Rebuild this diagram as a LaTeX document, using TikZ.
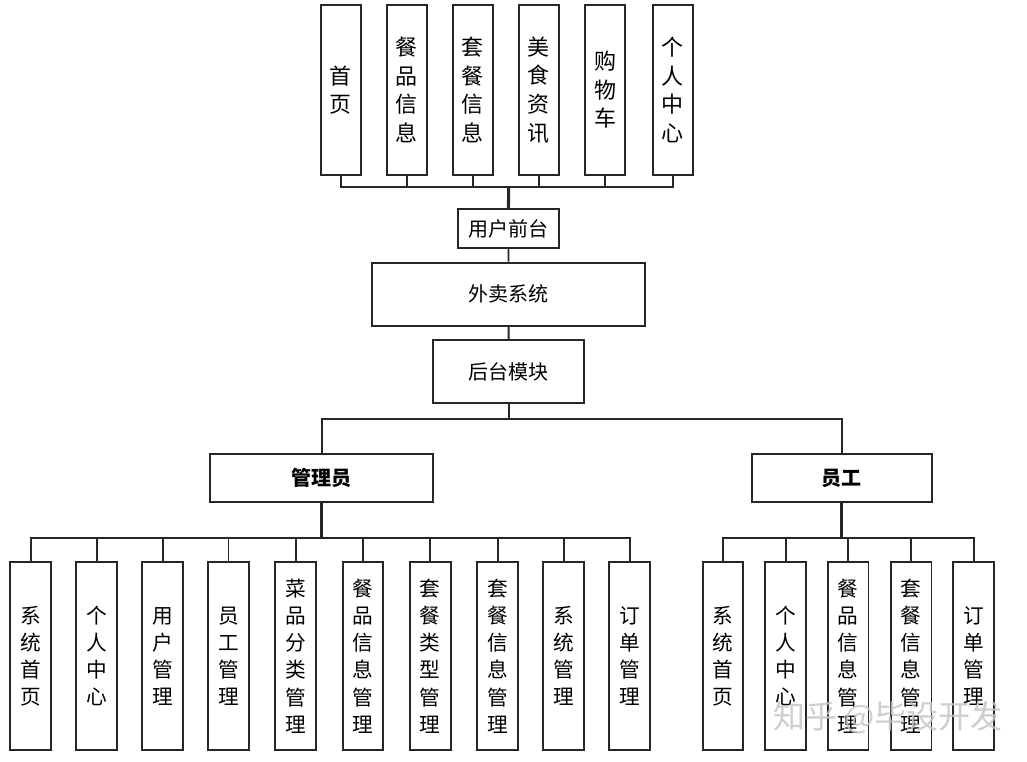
\documentclass[tikz,border=0pt]{standalone}
\usepackage{fontspec}
\setmainfont{Noto Sans CJK SC}
\usepackage{tikz}

\begin{document}
\begin{tikzpicture}[x=0.75pt,y=-0.75pt]
   \useasboundingbox (0,0) rectangle (1027,762);
   \tikzstyle{box}=[draw=black!85, line width=1.4pt, inner sep=0pt, fill=white]
   \tikzstyle{topbox}=[box, minimum width=30pt, minimum height=127.5pt, align=center, font=\fontsize{16.5}{21.4}\selectfont]
   \tikzstyle{subbox}=[box, minimum width=30.5pt, minimum height=140.8pt, align=center, font=\fontsize{15.5}{20.3}\selectfont]
   \tikzstyle{wide}=[box, font=\fontsize{15}{18}\selectfont]
   \tikzstyle{link}=[draw=black!85, line width=1.4pt]
   \tikzstyle{trunk}=[draw=black!85, line width=2.3pt]
   % upper part: front end
   \coordinate (ubus) at (508.7,186.7);
   \node[wide, minimum width=75.5pt, minimum height=29.7pt] (front) at (508.4,228.5) {用户前台};
   \foreach \i/\x/\word in {1/340.7/{首\\页},2/406.7/{餐\\品\\信\\息},3/472.7/{套\\餐\\信\\息},
                            4/538.7/{美\\食\\资\\讯},5/605/{购\\物\\车},6/672.7/{个\\人\\中\\心}} {
       \node[topbox] (u\i) at (\x,90) {\word};
       \draw[link] (u\i.south) |- (ubus);
   }
   \draw[trunk] (ubus) -- (front.north);
   \node[wide, minimum width=204.8pt, minimum height=47.5pt] (system) at (508.5,294.3) {外卖系统};
   \node[wide, minimum width=113pt, minimum height=47.5pt] (back) at (508.7,371.7) {后台模块};
   \draw[link] (front) -- (system);
   \draw[link] (system) -- (back);
   % lower part: back end
   \coordinate (mbus) at (508.7,418.7);
   \node[wide, font=\fontsize{15}{18}\selectfont\bfseries, minimum width=167.5pt, minimum height=35.8pt] (admin) at (321.7,478.2) {管理员};
   \node[wide, font=\fontsize{15}{18}\selectfont\bfseries, minimum width=135.2pt, minimum height=35.8pt] (staff) at (841.8,478.2) {员工};
   \draw[link] (back) -- (mbus);
   \draw[link] (admin) |- (mbus);
   \draw[link] (staff) |- (mbus);
   \coordinate (abus) at (321.7,538.3);
   \coordinate (sbus) at (841.8,538.3);
   \foreach \i/\x/\word in {1/30.7/{系\\统\\首\\页},2/96.7/{个\\人\\中\\心},3/162.7/{用\\户\\管\\理},
                            4/228.5/{员\\工\\管\\理},5/295.7/{菜\\品\\分\\类\\管\\理},6/363/{餐\\品\\信\\息\\管\\理},
                            7/430.3/{套\\餐\\类\\型\\管\\理},8/497.7/{套\\餐\\信\\息\\管\\理},9/563.7/{系\\统\\管\\理},
                            10/629.7/{订\\单\\管\\理}} {
       \node[subbox] (a\i) at (\x,656.2) {\word};
       \draw[link] (a\i.north) |- (abus);
   }
   \foreach \i/\x/\word in {1/723/{系\\统\\首\\页},2/785.7/{个\\人\\中\\心},3/848.2/{餐\\品\\信\\息\\管\\理},
                            4/911.2/{套\\餐\\信\\息\\管\\理},5/973.7/{订\\单\\管\\理}} {
       \node[subbox] (s\i) at (\x,656.2) {\word};
       \draw[link] (s\i.north) |- (sbus);
   }
   \draw[trunk] (admin) -- (abus);
   \draw[trunk] (staff) -- (sbus);
   % watermark
   \node[text=gray!45, opacity=0.85, font=\fontsize{24}{28}\selectfont] (mark) at (888,718) {知乎 @毕设开发};
\end{tikzpicture}
\end{document}
